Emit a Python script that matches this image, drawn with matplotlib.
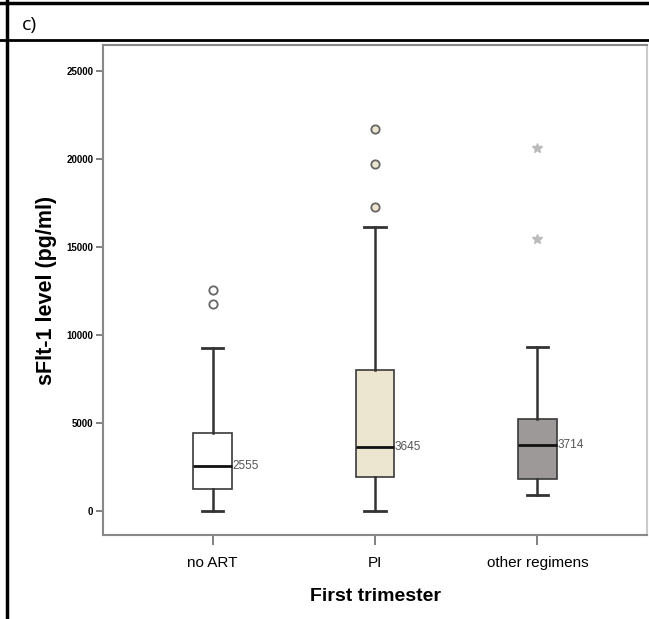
import matplotlib
matplotlib.use("Agg")
import matplotlib.pyplot as plt
from matplotlib.lines import Line2D

# ---- data ----
categories = ["no ART", "PI", "other regimens"]
whislo = [0, 0, 890]
q1 = [1220, 1910, 1800]
medians = [2555, 3645, 3714]
q3 = [4400, 7990, 5190]
whishi = [9230, 16140, 9300]
circle_outliers = [[12540, 11730], [21670, 19720, 17260], []]
star_outliers = [[], [], [20620, 15450]]
median_labels = ["2555", "3645", "3714"]
yticks = [0, 5000, 10000, 15000, 20000, 25000]

box_colors = ["#ffffff", "#ece5cf", "#9d9998"]
flier_faces = ["#ffffff", "#ece5cf", "#ffffff"]

plt.rcParams['font.family'] = ['Liberation Sans', 'DejaVu Sans']

fig = plt.figure(figsize=(6.49, 6.19), dpi=100)
ax = fig.add_axes([103/649, 1-535/619, (647-103)/649, (535-45)/619])

positions = [1, 2, 3]
stats = []
for i in range(3):
    stats.append(dict(med=medians[i], q1=q1[i], q3=q3[i],
                      whislo=whislo[i], whishi=whishi[i], fliers=[]))

bp = ax.bxp(stats, positions=positions, widths=0.24, patch_artist=True,
            showfliers=False,
            boxprops=dict(edgecolor="#3a3a3a", linewidth=1.2),
            medianprops=dict(color="#111111", linewidth=2.0),
            whiskerprops=dict(color="#333333", linewidth=1.8),
            capprops=dict(color="#333333", linewidth=2.0),
            capwidths=0.13)
for patch, c in zip(bp['boxes'], box_colors):
    patch.set_facecolor(c)

for i, pos in enumerate(positions):
    if circle_outliers[i]:
        ax.plot([pos]*len(circle_outliers[i]), circle_outliers[i], 'o',
                ms=6, mfc=flier_faces[i], mec="#666666", mew=1.3, ls='none')
    if star_outliers[i]:
        ax.plot([pos]*len(star_outliers[i]), star_outliers[i], '*',
                ms=7.5, mfc="#bbbbbb", mec="#bbbbbb", ls='none')
    ax.text(pos + 0.122, medians[i], median_labels[i], fontsize=8.5,
            color="#555555", va='center', ha='left')

ax.set_xlim(0.325, 3.675)
ax.set_ylim(-1380, 26460)
ax.set_yticks(yticks)
ax.set_yticklabels([str(v) for v in yticks], fontsize=7, fontweight='bold')
ax.set_xticks(positions)
ax.set_xticklabels(categories, fontsize=11)
ax.tick_params(axis='both', direction='out', color="#777777", width=1.3)
ax.tick_params(axis='y', length=5, pad=2)
ax.tick_params(axis='x', length=7, pad=8)
for s in ax.spines.values():
    s.set_color("#888888")
    s.set_linewidth(1.5)
ax.spines['right'].set_color("#cccccc")

ax.set_ylabel("sFlt-1 level (pg/ml)", fontsize=15.5, fontweight='bold', labelpad=7)
ax.set_xlabel("First trimester", fontsize=14, fontweight='bold', labelpad=13)

# table frame
fig.add_artist(Line2D([0, 1], [1-3/619, 1-3/619], color='black', lw=2.5, transform=fig.transFigure))
fig.add_artist(Line2D([0, 1], [1-40/619, 1-40/619], color='black', lw=2, transform=fig.transFigure))
fig.add_artist(Line2D([7/649, 7/649], [0, 1], color='black', lw=2.5, transform=fig.transFigure))
fig.text(22/649, 1-25/619, "c)", fontsize=14, va='center', ha='left', family=['Open Sans', 'DejaVu Sans'])

fig.savefig("out.png", dpi=100)
